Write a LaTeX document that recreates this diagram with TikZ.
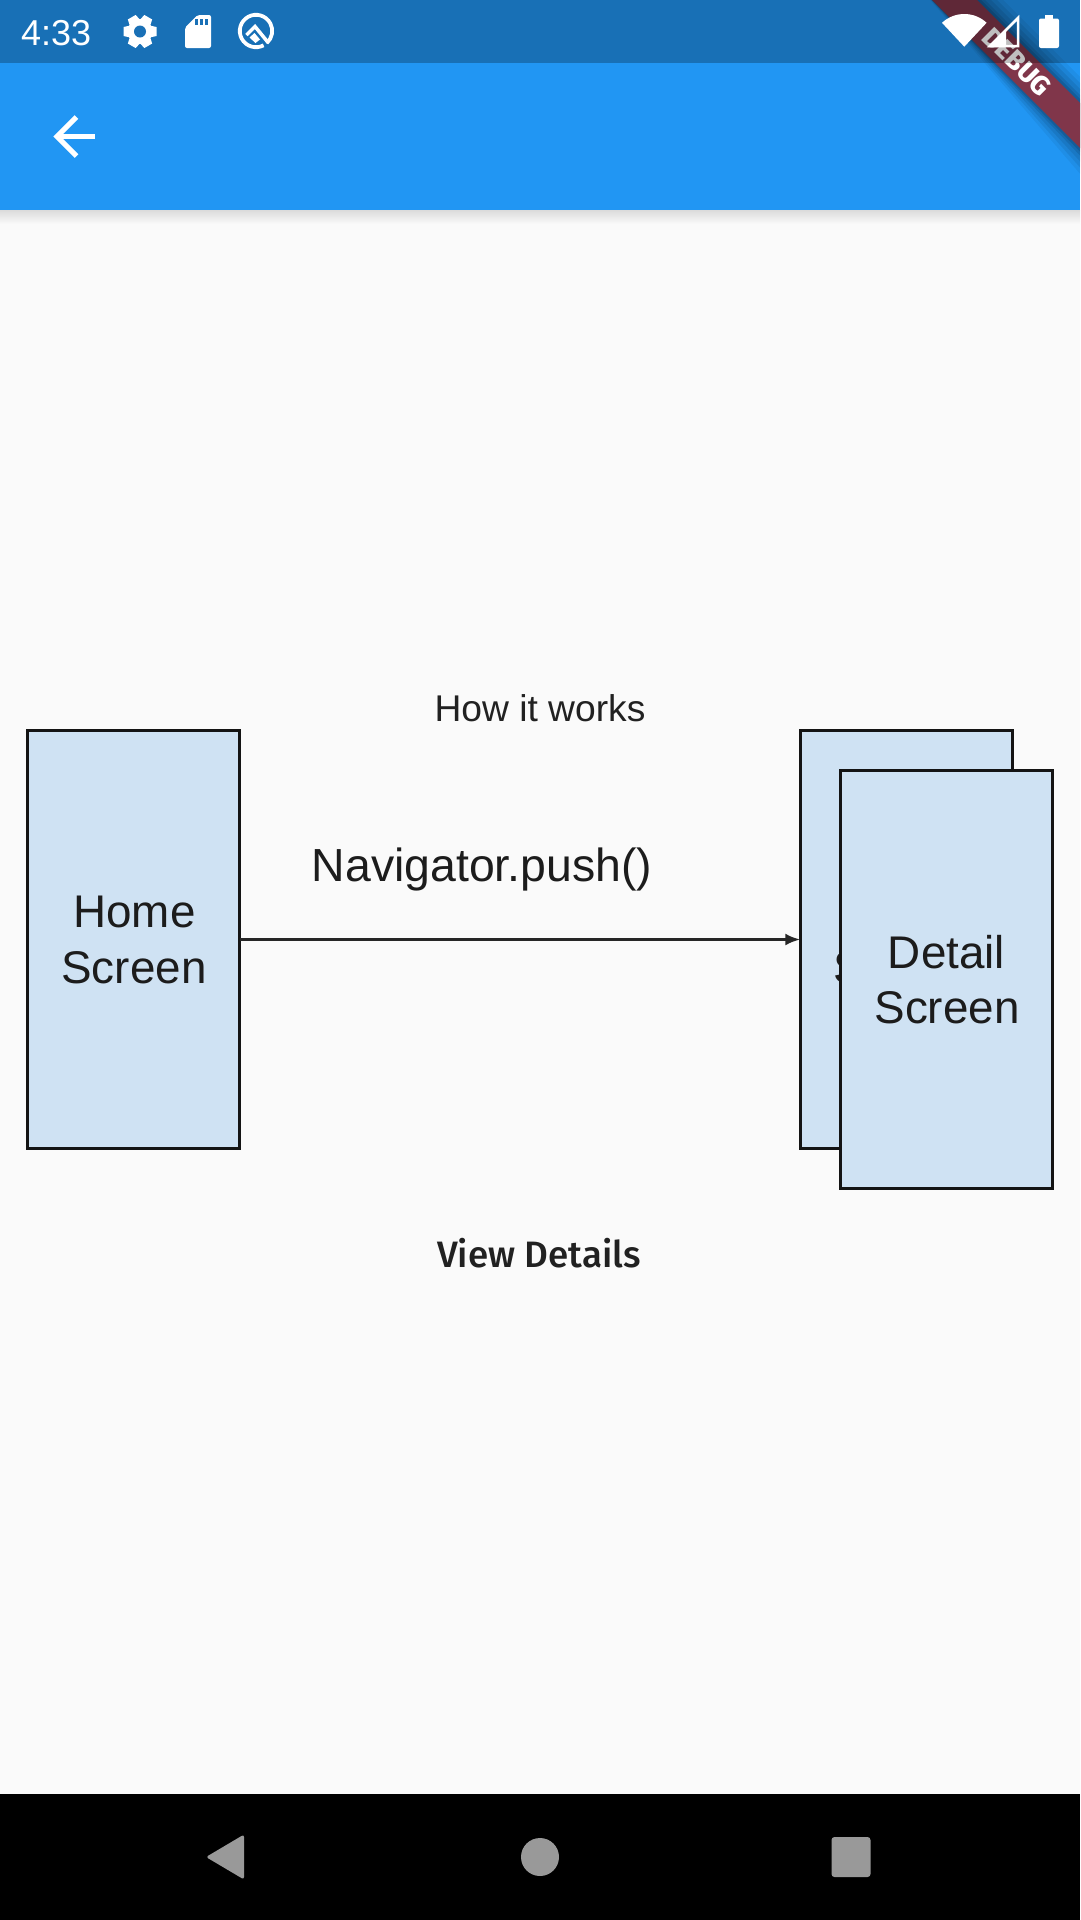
\documentclass[tikz,border=0pt]{standalone}
\usepackage{fontspec}
\setmainfont{Liberation Sans}
\newfontfamily\medfont{Fira Sans Medium}
\newfontfamily\heavyfont{Fira Sans ExtraBold}
\usetikzlibrary{arrows.meta}
\definecolor{pagebg}{HTML}{FAFAFA}
\definecolor{appblue}{HTML}{2196F3}
\definecolor{statusblue}{HTML}{1970B6}
\definecolor{boxblue}{HTML}{CFE2F3}
\definecolor{inktext}{HTML}{212121}
\definecolor{imgtext}{HTML}{1C1C1C}
\definecolor{bannerred}{HTML}{80364A}
\definecolor{navgray}{HTML}{999999}
\tikzset{
  screenbox/.style={draw=black!92,fill=boxblue,line width=2.9pt,inner sep=0pt,outer sep=0pt,minimum width=212.5pt,minimum height=418.5pt},
  boxlabel/.style={anchor=base,inner sep=0pt,text=imgtext,font=\fontsize{45.8}{50}\selectfont},
  applabel/.style={anchor=base,inner sep=0pt,text=inktext,font=\fontsize{37.2}{40}\selectfont},
  pushlink/.style={draw=black!85,line width=2.6pt,-{Latex[length=15pt,width=12pt]}},
  whiteicon/.style={fill=white,draw=none},
}
\begin{document}
\begin{tikzpicture}[x=1pt,y=-1pt]
\useasboundingbox (0,0) rectangle (1080,1920);
\fill[pagebg] (0,0) rectangle (1080,1920);
% app bar shadow
\shade[top color=black!14,bottom color=pagebg] (0,210) rectangle (1080,224);
\fill[appblue] (0,0) rectangle (1080,210);
% debug banner
\begin{scope}
\clip (0,0) rectangle (1080,230);
\foreach \w/\o in {13/0.05,10/0.07,7/0.08,4/0.10,2/0.12}{
  \fill[black,opacity=\o] (932-\w,0-\w) -- (977+\w,0-\w) -- (1095+\w,118-\w) -- (1095-\w,163+\w) -- cycle;
}
\fill[bannerred] (932,0) -- (977,0) -- (1095,118) -- (1095,163) -- cycle;
\node[rotate=-45,inner sep=0pt,text=white,font=\heavyfont\fontsize{27}{27}\selectfont] (debug) at (1017,62) {DEBUG};
\end{scope}
% status bar overlay
\fill[black,opacity=0.25] (0,0) rectangle (1080,63);
% status texts and icons
\node[anchor=base west,inner sep=0pt,text=white,font=\fontsize{36}{36}\selectfont] (clock) at (21,45) {4:33};
% gear
\foreach \a in {30,90,150}{
  \fill[white,rotate around={\a:(140,31.5)}] (135.5,15) -- (144.5,15) -- (146.5,24) -- (133.5,24) -- cycle;
  \fill[white,rotate around={\a+180:(140,31.5)}] (135.5,15) -- (144.5,15) -- (146.5,24) -- (133.5,24) -- cycle;
}
\fill[white] (140,31.5) circle[radius=12.5];
\fill[statusblue] (140,31.5) circle[radius=6];
% sd card
\fill[white,rounded corners=2pt] (185,27.5) -- (197.5,15) -- (211,15) -- (211,48) -- (185,48) -- cycle;
\fill[statusblue] (195,18.5) rectangle (198,25);
\fill[statusblue] (200,18.5) rectangle (203,25);
\fill[statusblue] (204.8,18.5) rectangle (207.6,25);
% Q logo
\draw[white,line width=3.8pt] (256,31) ++(62:16.2) arc[start angle=62,end angle=408,radius=16.2];
\draw[white,line width=3.5pt,miter limit=4] (246.5,35) -- (255,26.5) -- (268.5,43);
\fill[white] (249.5,37.5) -- (254.5,33) -- (260,39.5) -- (255.5,43) -- cycle;
% wifi
\fill[whiteicon] (964.3,46.7) -- ++(-133:32.7) arc[start angle=-133,end angle=-47,radius=32.7] -- cycle;
% signal
\draw[white,line width=2.5pt,line join=miter] (1018,18) -- (1018,46) -- (990,46) -- cycle;
\fill[whiteicon] (988,47) -- (1006,29) -- (1006,47) -- cycle;
% battery
\fill[whiteicon,rounded corners=2pt] (1039,18.5) rectangle (1059,48);
\fill[whiteicon] (1045,14.5) rectangle (1053,20);
% back arrow
\draw[white,line width=5pt,miter limit=10] (76.5,117) -- (57,136.5) -- (76.5,156);
\draw[white,line width=5pt] (60,136.5) -- (95,136.5);
% diagram
\node[screenbox] (home) at (133.5,939.5) {};
\node[boxlabel] (homeA) at (134.5,927) {Home};
\node[boxlabel] (homeB) at (134,983) {Screen};
\node[screenbox] (back) at (906.5,939.5) {};
\node[boxlabel] (backB) at (906,983) {Screen};
\node[screenbox] (front) at (946.5,979.5) {};
\node[boxlabel] (frontA) at (946.5,968) {Detail};
\node[boxlabel] (frontB) at (947,1023) {Screen};
\draw[pushlink] (home.east) -- (back.west);
\node[anchor=base,inner sep=0pt,text=imgtext,font=\fontsize{46.4}{50}\selectfont] (push) at (482,881) {Navigator.push()};
\node[applabel] (how) at (540,721) {How it works};
\node[applabel,font=\medfont\fontsize{36.75}{40}\selectfont] (view) at (539,1267) {View Details};
% navigation bar
\fill[black] (0,1794) rectangle (1080,1920);
\fill[navgray,rounded corners=2.5pt] (206,1857) -- (244,1834.5) -- (244,1879.5) -- cycle;
\fill[navgray] (540,1857) circle[radius=19];
\fill[navgray,rounded corners=3pt] (831.5,1837) rectangle (870.5,1877);
\end{tikzpicture}
\end{document}
